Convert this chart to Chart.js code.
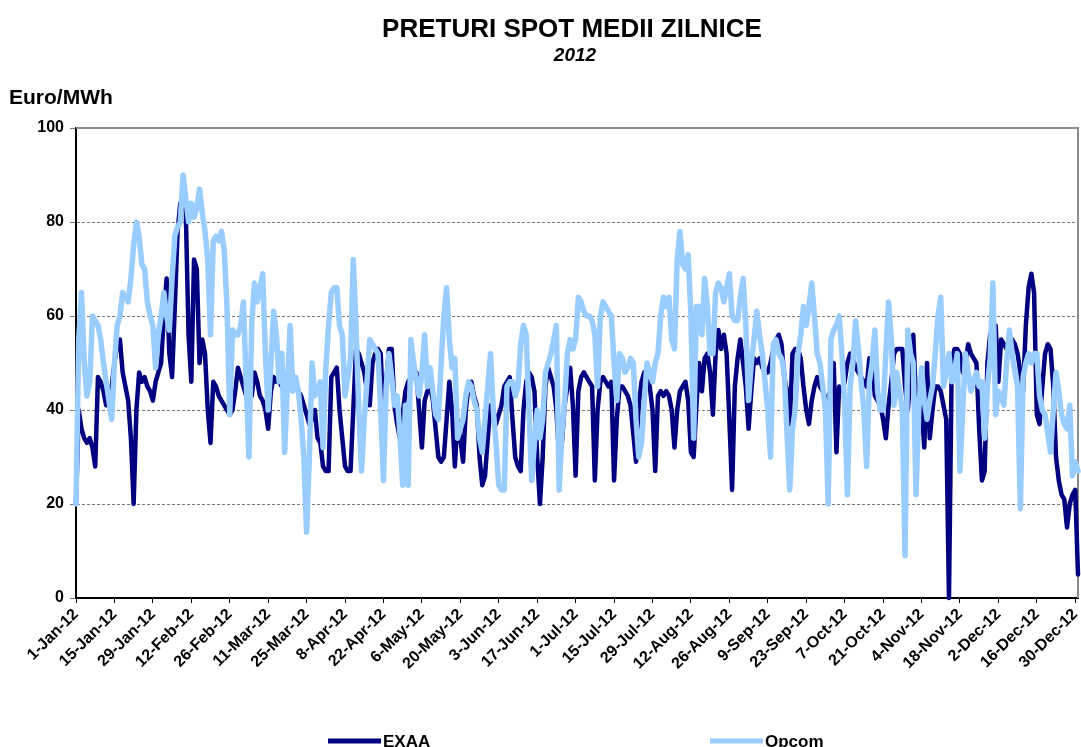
<!DOCTYPE html>
<html>
<head>
<meta charset="utf-8">
<script src="https://cdn.jsdelivr.net/npm/chart.js@4.4.0/dist/chart.umd.min.js"></script>
<style>
  body { margin: 0; background: #fff; }
  canvas { display: block; }
</style>
</head>
<body>
<canvas id="chart" width="1081" height="747"></canvas>
<script>
const FONT = "'Liberation Sans', Arial, sans-serif";

const monthNames = ['Jan', 'Feb', 'Mar', 'Apr', 'May', 'Jun', 'Jul', 'Aug', 'Sep', 'Oct', 'Nov', 'Dec'];
const monthDays = [31, 29, 31, 30, 31, 30, 31, 31, 30, 31, 30, 31];

// one category per day of 2012
const dayLabels = [];
monthDays.forEach((n, m) => {
  for (let d = 1; d <= n; d++) dayLabels.push(d + '-' + monthNames[m] + '-12');
});

const yTicks = [0, 20, 40, 60, 80, 100];

// daily average spot prices, Euro/MWh
const exaa = [
  20, 40, 36, 34, 33, 34, 32, 28, 47, 46,
  44, 41, 42, 45, 50, 54, 55, 48, 45, 42,
  34, 20, 40, 48, 46, 47, 45, 44, 42, 46,
  48, 50, 60, 68, 52, 47, 62, 78, 84, 85,
  82, 56, 46, 72, 70, 50, 55, 52, 40, 33,
  46, 45, 43, 42, 41, 40, 39, 40, 44, 49,
  47, 45, 43, 44, 43, 48, 46, 43, 42, 40,
  36, 44, 47, 46, 46, 45, 45, 46, 47, 46,
  45, 44, 43, 41, 39, 37, 38, 40, 34, 33,
  28, 27, 27, 47, 48, 49, 40, 34, 28, 27,
  27, 40, 53, 52, 50, 48, 44, 41, 50, 52,
  53, 52, 38, 46, 53, 53, 41, 37, 34, 39,
  44, 46, 47, 47, 48, 40, 32, 42, 44, 45,
  42, 36, 30, 29, 30, 38, 46, 40, 28, 38,
  34, 29, 40, 45, 46, 43, 41, 30, 24, 26,
  34, 41, 40, 37, 39, 41, 45, 46, 47, 38,
  30, 28, 27, 40, 46, 48, 47, 44, 30, 20,
  30, 45, 49, 47, 45, 40, 30, 33, 41, 45,
  49, 41, 26, 44, 47, 48, 47, 46, 45, 25,
  40, 46, 47, 46, 45, 46, 25, 38, 45, 45,
  44, 43, 41, 35, 29, 41, 46, 48, 47, 45,
  40, 27, 43, 44, 43, 44, 43, 40, 32, 40,
  44, 45, 46, 42, 31, 30, 41, 50, 44, 51,
  52, 48, 39, 52, 57, 53, 56, 52, 38, 23,
  45, 51, 55, 50, 45, 36, 44, 51, 50, 51,
  49, 48, 48, 50, 53, 55, 56, 54, 47, 44,
  37, 52, 53, 53, 51, 45, 40, 37, 42, 45,
  47, 45, 44, 42, 43, 44, 50, 31, 45, 44,
  46, 50, 52, 51, 49, 48, 47, 46, 45, 51,
  50, 43, 42, 41, 38, 34, 41, 46, 52, 53,
  53, 53, 45, 40, 47, 56, 42, 41, 41, 32,
  50, 34, 40, 45, 45, 44, 41, 38, 0, 50,
  53, 53, 52, 48, 50, 54, 52, 51, 50, 36,
  25, 27, 50, 56, 57, 58, 46, 55, 54, 53,
  54, 55, 54, 52, 48, 44, 58, 66, 69, 65,
  39, 37, 45, 52, 54, 53, 45, 30, 25, 22,
  21, 15, 20, 22, 23, 5
];

const opcom = [
  20, 55, 65, 50, 43, 46, 60, 59, 58, 55,
  50, 46, 42, 38, 50, 58, 60, 65, 64, 63,
  68, 75, 80, 77, 71, 70, 63, 60, 58, 49,
  56, 60, 65, 60, 57, 68, 77, 79, 80, 90,
  85, 80, 84, 81, 83, 87, 82, 78, 72, 56,
  76, 77, 76, 78, 74, 62, 39, 57, 56, 56,
  58, 63, 46, 30, 58, 67, 63, 66, 69, 52,
  40, 50, 61, 56, 46, 52, 31, 45, 58, 44,
  47, 44, 38, 30, 14, 30, 50, 43, 44, 46,
  32, 49, 58, 65, 66, 66, 58, 56, 43, 47,
  51, 72, 58, 40, 27, 38, 46, 55, 54, 53,
  52, 40, 25, 45, 52, 47, 41, 43, 35, 24,
  41, 24, 55, 50, 46, 43, 48, 56, 45, 49,
  44, 39, 38, 50, 60, 66, 55, 49, 51, 34,
  36, 38, 43, 46, 45, 42, 40, 34, 31, 38,
  45, 52, 40, 33, 24, 23, 23, 45, 46, 46,
  43, 45, 54, 58, 56, 40, 25, 33, 40, 34,
  38, 48, 50, 52, 55, 58, 23, 35, 42, 52,
  55, 53, 55, 64, 63, 61, 60, 60, 59, 56,
  45, 60, 63, 62, 61, 60, 50, 42, 52, 51,
  48, 49, 51, 50, 38, 30, 33, 42, 50, 48,
  46, 50, 52, 60, 64, 62, 64, 55, 53, 72,
  78, 71, 70, 73, 60, 34, 62, 62, 56, 68,
  62, 52, 52, 65, 67, 66, 63, 66, 69, 60,
  59, 59, 64, 68, 58, 42, 50, 55, 61, 56,
  52, 46, 40, 30, 54, 55, 52, 51, 48, 35,
  23, 36, 40, 52, 56, 62, 58, 62, 67, 60,
  52, 50, 45, 40, 20, 55, 57, 58, 60, 52,
  41, 22, 45, 50, 59, 53, 46, 40, 28, 46,
  50, 57, 44, 40, 40, 52, 63, 55, 41, 48,
  44, 40, 9, 57, 52, 50, 22, 40, 49, 42,
  38, 42, 45, 52, 60, 64, 45, 48, 52, 46,
  48, 52, 27, 40, 52, 48, 44, 46, 48, 45,
  46, 34, 45, 51, 67, 39, 44, 43, 41, 50,
  57, 52, 48, 45, 19, 47, 50, 52, 50, 52,
  52, 43, 40, 39, 35, 31, 40, 48, 44, 39,
  37, 36, 41, 26, 29, 27
];

const seriesNames = ['EXAA', 'Opcom'];
const seriesColors = ['#000080', '#99CCFF'];

// white page, grey frame on top/right, headings and legend
const decorations = {
  id: 'decorations',
  beforeDraw(chart) {
    const ctx = chart.ctx;
    ctx.save();
    ctx.fillStyle = '#fff';
    ctx.fillRect(0, 0, chart.width, chart.height);
    ctx.restore();
  },
  beforeDatasetsDraw(chart) {
    const { ctx, chartArea: a } = chart;
    ctx.save();
    ctx.strokeStyle = '#8c8c8c';
    ctx.lineWidth = 2;
    ctx.beginPath();
    ctx.moveTo(a.left, a.top);
    ctx.lineTo(a.right, a.top);
    ctx.lineTo(a.right, a.bottom);
    ctx.stroke();
    ctx.restore();
  },
  afterDraw(chart) {
    const ctx = chart.ctx;
    ctx.save();
    ctx.fillStyle = '#000';
    ctx.textBaseline = 'alphabetic';

    ctx.textAlign = 'center';
    ctx.font = 'bold 26px ' + FONT;
    ctx.fillText('PRETURI SPOT MEDII ZILNICE', 572, 37);
    ctx.font = 'italic bold 19px ' + FONT;
    ctx.fillText('2012', 575, 61);

    ctx.textAlign = 'left';
    ctx.font = 'bold 21px ' + FONT;
    ctx.fillText('Euro/MWh', 9, 104);

    // legend
    const items = [{ x: 328 }, { x: 710 }];
    ctx.font = 'bold 17px ' + FONT;
    items.forEach((it, i) => {
      ctx.strokeStyle = seriesColors[i];
      ctx.lineWidth = 5;
      ctx.beginPath();
      ctx.moveTo(it.x, 741);
      ctx.lineTo(it.x + 53, 741);
      ctx.stroke();
      ctx.fillText(seriesNames[i], it.x + 55, 747);
    });
    ctx.restore();
  }
};

new Chart(document.getElementById('chart'), {
  type: 'line',
  data: {
    labels: dayLabels,
    datasets: [
      {
        label: seriesNames[0],
        data: exaa,
        borderColor: seriesColors[0],
        borderWidth: 4.5,
        pointRadius: 0,
        tension: 0,
        borderJoinStyle: 'round',
        borderCapStyle: 'round',
        clip: false,
        order: 1
      },
      {
        label: seriesNames[1],
        data: opcom,
        borderColor: seriesColors[1],
        borderWidth: 5.5,
        pointRadius: 0,
        tension: 0,
        borderJoinStyle: 'round',
        borderCapStyle: 'round',
        clip: false,
        order: 0
      }
    ]
  },
  options: {
    responsive: false,
    animation: false,
    layout: { padding: { top: 128, right: 3, bottom: 0, left: 0 } },
    plugins: {
      legend: { display: false },
      title: { display: false },
      tooltip: { enabled: false }
    },
    scales: {
      x: {
        type: 'category',
        afterBuildTicks: (scale) => {
          scale.ticks = scale.ticks.filter(t => t.value % 14 === 0);
        },
        afterFit: (scale) => {
          scale.height = 149;
          scale.paddingLeft = 0;
          scale.paddingRight = 0;
        },
        ticks: {
          autoSkip: false,
          maxRotation: 45,
          minRotation: 45,
          padding: 2,
          color: '#000',
          font: { family: FONT, size: 16, weight: 'bold' }
        },
        grid: {
          drawOnChartArea: false,
          drawTicks: true,
          tickLength: 5,
          tickColor: '#000',
          tickWidth: 1
        },
        border: { color: '#000', width: 2 }
      },
      y: {
        min: 0,
        max: 100,
        afterBuildTicks: (scale) => {
          scale.ticks = yTicks.map(v => ({ value: v }));
        },
        afterFit: (scale) => { scale.width = 76; },
        ticks: {
          padding: 6,
          color: '#000',
          font: { family: FONT, size: 16, weight: 'bold' }
        },
        grid: {
          color: (c) => (c.tick && c.tick.value === 0 ? 'rgba(0,0,0,0)' : '#7a7a7a'),
          lineWidth: 1,
          tickLength: 6,
          tickColor: '#7a7a7a'
        },
        border: { color: '#000', width: 2, dash: [3, 2] }
      }
    }
  },
  plugins: [decorations]
});
</script>
</body>
</html>
